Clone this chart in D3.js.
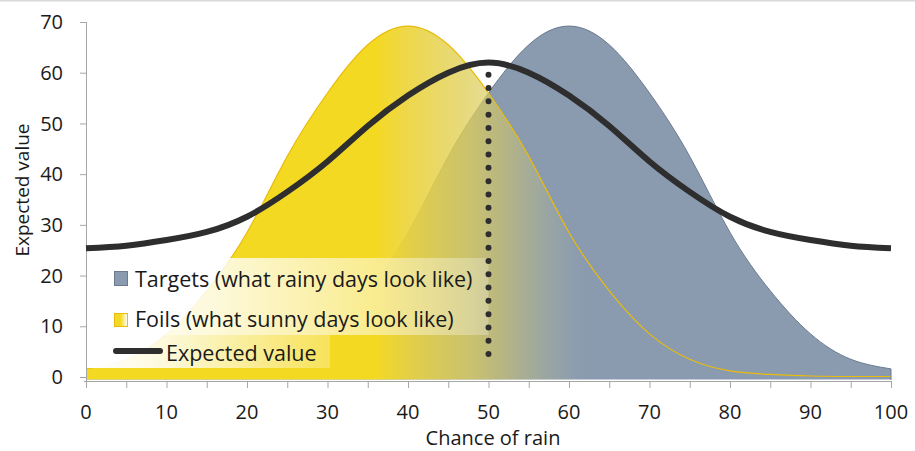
<!DOCTYPE html>
<html>
<head>
<meta charset="utf-8">
<script src="https://cdn.jsdelivr.net/npm/d3@7"></script>
<style>
  html, body { margin: 0; padding: 0; background: #ffffff; }
  svg { display: block; font-family: "Open Sans", Lato, sans-serif; }
</style>
</head>
<body>
<svg id="chart" width="915" height="451"></svg>
<script>
// ---- data ----
const chance = [0,5,10,15,20,25,30,35,40,45,50,55,60,65,70,75,80,85,90,95,100];
const targets = [0.1,0.1,0.2,0.5,1.2,3.5,8.5,17,28.5,43.5,56,65.5,69.2,65.5,56,43.5,28.5,17,8.5,3.5,1.6];
const foils   = [1.6,3.5,8.5,17,28.5,43.5,56,65.5,69.2,65.5,56,43.5,28.5,17,8.5,3.5,1.2,0.5,0.2,0.1,0.1];
const expected = [25.4,25.9,27.0,28.6,31.6,36.5,42.5,49.5,55.5,60.0,62.0,60.0,55.5,49.5,42.5,36.5,31.6,28.6,27.0,25.9,25.4];
const xTickLabels = [0,10,20,30,40,50,60,70,80,90,100];
const xMinorTicks = [0,5,10,15,20,25,30,35,40,45,50,55,60,65,70,75,80,85,90,95,100];
const yTickLabels = [0,10,20,30,40,50,60,70];
const criterion = [50];
const criterionRange = [2, 59.6];
const legendLabels = ["Targets (what rainy days look like)", "Foils (what sunny days look like)", "Expected value"];

// ---- setup ----
const svg = d3.select("#chart");
const x = d3.scaleLinear().domain([0, 100]).range([86, 891]);
const y = d3.scaleLinear().domain([0, 70]).range([377, 22]);
const base = y(0) + 3;

const defs = svg.append("defs");

// top frame line
svg.append("line").attr("x1", 0).attr("x2", 915).attr("y1", 0.5).attr("y2", 0.5)
  .attr("stroke", "#d9d9d9").attr("stroke-width", 2);

// foils gradient (fades into transparency toward the right)
const fg = defs.append("linearGradient").attr("id", "foilGrad")
  .attr("gradientUnits", "userSpaceOnUse")
  .attr("x1", x(0)).attr("x2", x(100)).attr("y1", 0).attr("y2", 0);
[[0,"rgb(244,217,34)",1],[36,"rgb(244,217,34)",1],[40,"rgb(236,212,60)",0.92],
 [48,"rgb(222,206,90)",0.75],[52,"rgb(214,200,100)",0.58],[56,"rgb(200,195,120)",0.36],
 [62,"rgb(180,180,150)",0],[100,"rgb(180,180,150)",0]].forEach(s => {
  fg.append("stop").attr("offset", (s[0]) + "%").attr("stop-color", s[1]).attr("stop-opacity", s[2]);
});

// legend background gradient
const lg = defs.append("linearGradient").attr("id", "legGrad")
  .attr("x1", "0%").attr("x2", "100%").attr("y1", "0%").attr("y2", "0%");
lg.append("stop").attr("offset", "0%").attr("stop-color", "#ffffff").attr("stop-opacity", 1);
lg.append("stop").attr("offset", "30%").attr("stop-color", "#ffffff").attr("stop-opacity", 0.85);
lg.append("stop").attr("offset", "100%").attr("stop-color", "#ffffff").attr("stop-opacity", 0.25);

// legend symbol gradient for foils
const sg = defs.append("linearGradient").attr("id", "symGrad")
  .attr("x1", "0%").attr("x2", "100%").attr("y1", "0%").attr("y2", "0%");
sg.append("stop").attr("offset", "0%").attr("stop-color", "#f4d922");
sg.append("stop").attr("offset", "45%").attr("stop-color", "#f4d922");
sg.append("stop").attr("offset", "100%").attr("stop-color", "#ffffff");

const tData = chance.map((c, i) => ({x: c, v: targets[i]}));
const fData = chance.map((c, i) => ({x: c, v: foils[i]}));
const eData = chance.map((c, i) => ({x: c, v: expected[i]}));

const curve = d3.curveNatural;
const area = d3.area().x(d => x(d.x)).y0(base).y1(d => Math.min(y(d.v), base)).curve(curve);
const line = d3.line().x(d => x(d.x)).y(d => y(d.v)).curve(curve);

const clip = defs.append("clipPath").attr("id", "plotClip");
clip.append("rect").attr("x", x(0)).attr("y", 0).attr("width", x(100) - x(0)).attr("height", base - 0.5);

const plot = svg.append("g").attr("clip-path", "url(#plotClip)");

// targets
plot.append("path").datum(tData).attr("d", area).attr("fill", "#8a9bb0");
plot.append("path").datum(tData).attr("d", line).attr("fill", "none")
  .attr("stroke", "#6b7a8f").attr("stroke-width", 1);
svg.append("line").attr("x1", x(100)).attr("x2", x(100))
  .attr("y1", y(targets[targets.length-1])).attr("y2", base)
  .attr("stroke", "#6b7a8f").attr("stroke-width", 1);

// foils
plot.append("path").datum(fData).attr("d", area).attr("fill", "url(#foilGrad)");
plot.append("path").datum(fData).attr("d", line).attr("fill", "none")
  .attr("stroke", "#e9bb0c").attr("stroke-width", 1.2);

// axes
const gx = svg.append("g").attr("transform", `translate(0,${base + 1})`);
gx.call(d3.axisBottom(x).tickValues(xMinorTicks).tickSize(7).tickSizeOuter(0).tickFormat(""));
gx.select(".domain").attr("stroke", "#a6a6a6").attr("d", `M${x(0) - 2},0.5H${x(100) + 1}`);
gx.selectAll(".tick line").attr("stroke", "#a6a6a6");

xTickLabels.forEach(v => {
  svg.append("text").attr("x", x(v)).attr("y", 419).attr("text-anchor", "middle")
    .attr("font-size", 20).attr("fill", "#1a1a1a").text(v);
});

const gy = svg.append("g").attr("transform", `translate(${x(0)},0)`);
gy.call(d3.axisLeft(y).tickValues(yTickLabels).tickSize(6).tickSizeOuter(0).tickFormat(""));
gy.select(".domain").attr("stroke", "#a6a6a6").attr("d", `M0.5,${y(70)}V${base + 1}`);
gy.selectAll(".tick line").attr("stroke", "#a6a6a6");
yTickLabels.forEach(v => {
  svg.append("text").attr("x", 63).attr("y", y(v)).attr("dy", "0.36em").attr("text-anchor", "end")
    .attr("font-size", 20).attr("fill", "#1a1a1a").text(v);
});

// axis titles
svg.append("text").attr("x", 493).attr("y", 445).attr("text-anchor", "middle")
  .attr("font-size", 20).attr("fill", "#1a1a1a").text("Chance of rain");
svg.append("text").attr("transform", "translate(29,190) rotate(-90)").attr("text-anchor", "middle")
  .attr("font-size", 19).attr("fill", "#1a1a1a").text("Expected value");

// legend backgrounds
const lgX = x(0) + 1;
svg.append("rect").attr("x", lgX).attr("y", 258).attr("width", x(50) - lgX).attr("height", 77)
  .attr("fill", "url(#legGrad)");
svg.append("rect").attr("x", lgX).attr("y", 335).attr("width", 330 - lgX).attr("height", 33)
  .attr("fill", "url(#legGrad)");

// legend items
svg.append("rect").attr("x", 114.5).attr("y", 271.5).attr("width", 13).attr("height", 14)
  .attr("fill", "#8a9bb0").attr("stroke", "#6b7a8f").attr("stroke-width", 1);
svg.append("rect").attr("x", 114.5).attr("y", 313.5).attr("width", 13).attr("height", 13)
  .attr("fill", "url(#symGrad)").attr("stroke", "#e9bb0c").attr("stroke-width", 1);
svg.append("line").attr("x1", 116).attr("x2", 160).attr("y1", 351).attr("y2", 351)
  .attr("stroke", "#2e2e2e").attr("stroke-width", 6).attr("stroke-linecap", "round");

const legY = [279, 319, 353];
const legX = [135, 135, 166];
legendLabels.forEach((t, i) => {
  svg.append("text").attr("x", legX[i]).attr("y", legY[i]).attr("dy", "0.35em")
    .attr("font-size", 21.5).attr("fill", "#1a1a1a").text(t);
});

// expected value line
svg.append("path").datum(eData).attr("d", line).attr("fill", "none")
  .attr("stroke", "#2e2e2e").attr("stroke-width", 6);

// criterion dotted line
svg.selectAll(".crit").data(criterion).enter().append("line")
  .attr("x1", d => x(d)).attr("x2", d => x(d))
  .attr("y1", y(criterionRange[1])).attr("y2", y(criterionRange[0]))
  .attr("stroke", "#2e2e2e").attr("stroke-width", 6).attr("stroke-linecap", "round")
  .attr("stroke-dasharray", "0 13.3");
</script>
</body>
</html>
